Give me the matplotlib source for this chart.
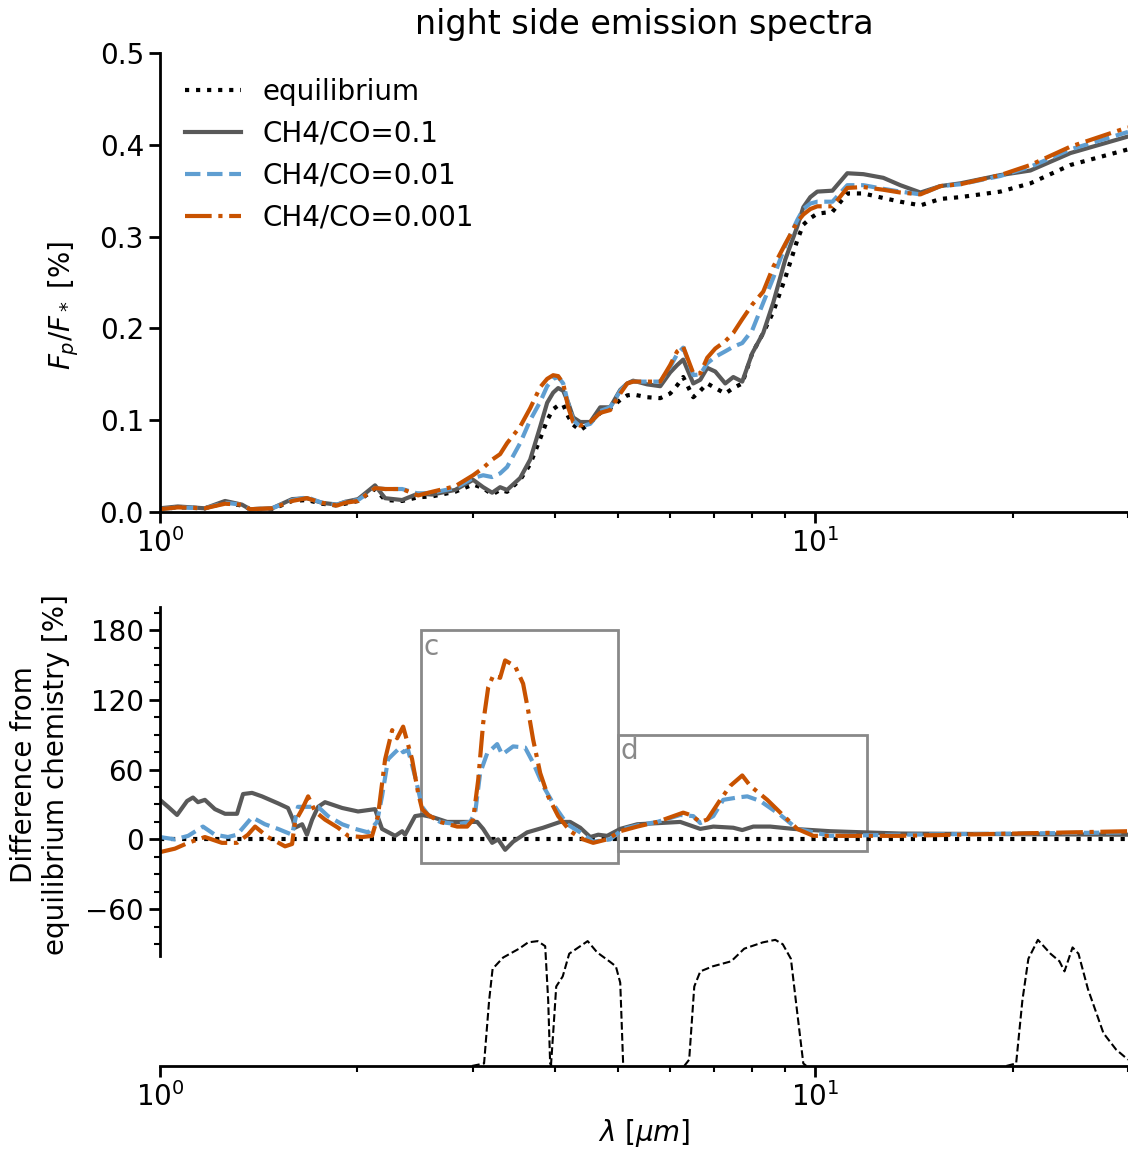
import numpy as np
import matplotlib
matplotlib.use("Agg")
import matplotlib.pyplot as plt
from matplotlib.patches import Rectangle
from matplotlib.ticker import FixedLocator

# ---- top panel: night side F_p/F_* [%] ----
wl_top = [1.000, 1.065, 1.171, 1.257, 1.334, 1.372, 1.483, 1.591, 1.676, 1.767,
          1.863, 1.916, 2.006, 2.129, 2.206, 2.342, 2.477, 2.602, 2.821, 3.005,
          3.113, 3.213, 3.304, 3.386, 3.545, 3.672, 3.804, 3.898, 3.981, 4.052,
          4.124, 4.197, 4.271, 4.378, 4.535, 4.697, 4.864, 5.039, 5.164, 5.274,
          5.540, 5.800, 6.005, 6.155, 6.287, 6.513, 6.676, 6.841, 7.036, 7.288,
          7.496, 7.736, 8.013, 8.328, 8.626, 8.998, 9.386, 9.587, 9.826, 10.07,
          10.62, 11.19, 11.84, 12.70, 13.48, 14.47, 15.52, 16.65, 19.16, 21.29,
          24.51, 30.0]
fp_eq = [.003, .005, .004, .010, .007, .003, .003, .012, .013, .009,
         .007, .009, .012, .025, .013, .012, .016, .017, .022, .030,
         .026, .019, .024, .022, .035, .052, .080, .100, .112, .116,
         .117, .104, .095, .089, .097, .108, .113, .122, .127, .128,
         .125, .124, .129, .138, .147, .125, .132, .140, .135, .129,
         .135, .140, .173, .195, .218, .255, .296, .313, .320, .325,
         .327, .347, .347, .342, .338, .334, .341, .343, .349, .358,
         .378, .395]
fp_01 = [.004, .006, .004, .012, .008, .003, .004, .014, .015, .010,
         .008, .011, .014, .029, .015, .013, .020, .019, .024, .035,
         .027, .021, .027, .024, .037, .057, .093, .119, .130, .135,
         .132, .119, .103, .098, .098, .114, .114, .133, .140, .143,
         .139, .137, .152, .160, .166, .140, .144, .157, .153, .140,
         .147, .142, .173, .195, .228, .275, .311, .332, .343, .349,
         .350, .369, .368, .364, .356, .348, .355, .358, .367, .372,
         .391, .409]
fp_001 = [.003, .005, .004, .010, .008, .003, .004, .013, .016, .010,
          .008, .011, .013, .026, .025, .025, .020, .021, .026, .037,
          .040, .038, .042, .049, .075, .100, .120, .137, .145, .147,
          .140, .118, .100, .093, .096, .110, .114, .132, .140, .142,
          .142, .142, .158, .172, .179, .149, .150, .162, .169, .175,
          .180, .184, .198, .228, .255, .290, .318, .330, .336, .338,
          .338, .356, .356, .352, .349, .346, .355, .357, .366, .376,
          .395, .414]
fp_0001 = [.003, .005, .004, .009, .008, .003, .004, .012, .015, .010,
           .007, .010, .012, .026, .025, .025, .018, .022, .028, .040,
           .048, .057, .063, .075, .093, .113, .136, .145, .149, .148,
           .140, .114, .098, .094, .098, .108, .111, .129, .140, .142,
           .142, .142, .160, .175, .180, .151, .151, .168, .178, .186,
           .195, .210, .226, .240, .267, .292, .316, .324, .330, .333,
           .333, .353, .354, .351, .348, .346, .355, .357, .367, .378,
           .398, .419]

# ---- bottom panel: difference from equilibrium [%] ----
wl_d_eq = [1.0, 30.0]
d_eq = [0, 0]

wl_d_01 = [1.000, 1.029, 1.062, 1.100, 1.123, 1.143, 1.171, 1.213, 1.257, 1.311,
           1.339, 1.382, 1.431, 1.514, 1.568, 1.596, 1.607, 1.648, 1.676, 1.707,
           1.743, 1.786, 1.897, 2.006, 2.129, 2.182, 2.285, 2.342, 2.366, 2.451,
           2.512, 2.611, 2.743, 2.974, 3.048, 3.113, 3.213, 3.281, 3.363, 3.459,
           3.633, 3.843, 4.080, 4.226, 4.378, 4.535, 4.664, 4.812, 5.039, 5.350,
           6.222, 6.676, 6.987, 7.496, 7.736, 8.042, 8.535, 9.256, 10.54, 13.48,
           30.0]
d_01 = [34, 28, 21, 33, 36, 32, 34, 26, 22, 22,
        39, 40, 37, 31, 27, 17, 10, 13, 4, 17,
        28, 32, 27, 24, 26, 9, 3, 7, 4, 20,
        21, 19, 15, 15, 15, 9, -3, 0, -9, -2,
        6, 10, 15, 15, 10, 2, 4, 3, 9, 13,
        15, 9, 11, 10, 8, 11, 11, 9, 7, 5,
        4]

wl_d_001 = [1.000, 1.054, 1.104, 1.163, 1.213, 1.270, 1.311, 1.382, 1.446, 1.514,
            1.591, 1.624, 1.683, 1.743, 1.805, 1.897, 1.986, 2.078, 2.144, 2.182,
            2.229, 2.285, 2.325, 2.350, 2.391, 2.451, 2.512, 2.566, 2.676, 2.841,
            2.974, 3.027, 3.080, 3.157, 3.270, 3.328, 3.459, 3.607, 3.710, 3.843,
            4.009, 4.182, 4.378, 4.582, 4.864, 5.092, 5.350, 5.738, 6.222, 6.513,
            6.676, 6.987, 7.236, 7.601, 7.874, 8.242, 8.844, 9.386, 10.54, 13.48,
            30.0]
d_001 = [2, 0, 3, 11, 4, 2, 4, 19, 13, 9,
         4, 28, 28, 28, 20, 13, 9, 6, 15, 37,
         69, 75, 79, 75, 77, 54, 28, 21, 15, 13,
         15, 23, 57, 74, 82, 73, 80, 79, 66, 46,
         28, 13, 6, -2, 0, 9, 12, 15, 21, 20,
         14, 20, 34, 36, 37, 33, 21, 9, 3, 4,
         6]

wl_d_0001 = [1.000, 1.054, 1.104, 1.171, 1.243, 1.311, 1.362, 1.397, 1.461, 1.552,
             1.591, 1.607, 1.648, 1.683, 1.725, 1.786, 1.870, 1.937, 2.035, 2.107,
             2.151, 2.206, 2.261, 2.301, 2.350, 2.425, 2.477, 2.512, 2.566, 2.676,
             2.841, 2.943, 3.005, 3.059, 3.113, 3.169, 3.225, 3.304, 3.363, 3.483,
             3.582, 3.646, 3.710, 3.804, 3.911, 4.052, 4.226, 4.424, 4.582, 4.812,
             5.039, 5.350, 5.738, 6.287, 6.445, 6.676, 6.841, 7.161, 7.416, 7.736,
             7.958, 8.446, 8.844, 9.386, 9.930, 11.19, 13.48, 30.0]
d_0001 = [-11, -8, -3, 2, -3, -3, 4, 11, 2, -6,
          -4, 15, 26, 37, 24, 17, 10, 3, 2, 3,
          20, 69, 94, 87, 97, 69, 40, 26, 21, 15,
          11, 11, 17, 51, 100, 131, 141, 139, 154, 149,
          134, 111, 86, 57, 37, 20, 7, 0, -3, 0,
          7, 11, 15, 23, 21, 15, 17, 34, 46, 55,
          46, 34, 23, 9, 3, 3, 3, 7]

# ---- photometric bandpasses (normalised transmission) ----
wl_f1 = [2.994, 3.123, 3.179, 3.218, 3.340, 3.532, 3.646, 3.770, 3.871, 3.912, 3.939, 3.96]
tr_f1 = [0, 0.02, 0.52, 0.77, 0.86, 0.93, 0.98, 0.99, 0.95, 0.52, 0.02, 0]
wl_f2 = [3.95, 3.981, 4.024, 4.117, 4.212, 4.494, 4.647, 4.849, 4.962, 5.039, 5.092]
tr_f2 = [0, 0.26, 0.63, 0.71, 0.89, 0.99, 0.90, 0.83, 0.79, 0.66, 0]
wl_f3 = [6.31, 6.42, 6.536, 6.676, 6.975, 7.442, 7.79, 8.316, 8.688, 8.920, 9.178, 9.386, 9.587, 9.69]
tr_f3 = [0, 0.05, 0.63, 0.75, 0.79, 0.83, 0.93, 0.98, 1.0, 0.965, 0.85, 0.42, 0.02, 0]
wl_f4 = [19.57, 20.25, 20.70, 21.14, 21.86, 22.85, 23.58, 24.0, 24.69, 25.21, 26.06, 27.52, 28.77, 30.0]
tr_f4 = [0, 0.02, 0.52, 0.85, 1.0, 0.89, 0.83, 0.75, 0.94, 0.89, 0.61, 0.26, 0.13, 0.05]

labels = ["equilibrium", "CH4/CO=0.1", "CH4/CO=0.01", "CH4/CO=0.001"]
colors = ["black", "#595959", "#5F9ED1", "#C85200"]
styles = [":", "-", "--", "-."]

plt.rcParams["font.size"] = 20
plt.rcParams["axes.linewidth"] = 2

fig = plt.figure(figsize=(11.28, 11.57), dpi=100)
ax1 = fig.add_axes([0.1418, 0.5575, 0.8582, 0.3967])
ax2 = fig.add_axes([0.1418, 0.0787, 0.8582, 0.3967])

top_series = [fp_eq, fp_01, fp_001, fp_0001]
for y, lab, c, ls in zip(top_series, labels, colors, styles):
    ax1.plot(wl_top, y, ls, color=c, lw=3, label=lab)

ax1.set_xscale("log")
ax1.set_xlim(1, 30)
ax1.set_ylim(0, 0.5)
ax1.set_yticks([0.0, 0.1, 0.2, 0.3, 0.4, 0.5])
ax1.set_ylabel(r"$F_p/F_*$ [%]", fontsize=20)
ax1.yaxis.set_label_coords(-0.082, 0.45)
ax1.set_title("night side emission spectra", fontsize=24, pad=14)
ax1.legend(loc="upper left", frameon=False, fontsize=20)

diff_x = [wl_d_eq, wl_d_01, wl_d_001, wl_d_0001]
diff_y = [d_eq, d_01, d_001, d_0001]
for x, y, c, ls in zip(diff_x, diff_y, colors, styles):
    ax2.plot(x, y, ls, color=c, lw=3)

box_col = "#898989"
ax2.add_patch(Rectangle((2.5, -20), 2.5, 200, fill=False, ec=box_col, lw=2))
ax2.add_patch(Rectangle((5.0, -10), 7.0, 100, fill=False, ec=box_col, lw=2))
ax2.text(2.52, 178, "c", color=box_col, fontsize=20, ha="left", va="top")
ax2.text(5.05, 88, "d", color=box_col, fontsize=20, ha="left", va="top")

ax2.set_xscale("log")
ax2.set_xlim(1, 30)
ax2.set_ylim(-195, 200)
ax2.spines["left"].set_bounds(-100, 200)
ax2.set_yticks([-60, 0, 60, 120, 180])
ax2.yaxis.set_minor_locator(FixedLocator(np.arange(-90, 200, 15)))
ax2.set_ylabel("Difference from\nequilibrium chemistry [%]", fontsize=20)
ax2.yaxis.set_label_coords(-0.093, 0.635)
ax2.set_xlabel(r"$\lambda$ [$\mu m$]", fontsize=20)

axf = ax2.twinx()
axf.set_ylim(0, 3.64)
for x, y in [(wl_f1, tr_f1), (wl_f2, tr_f2), (wl_f3, tr_f3), (wl_f4, tr_f4)]:
    axf.plot(x, y, "--", color="black", lw=1.5)
axf.axis("off")

for ax in (ax1, ax2):
    ax.spines["top"].set_visible(False)
    ax.spines["right"].set_visible(False)
    ax.tick_params(which="major", length=8, width=2, labelsize=20)
    ax.tick_params(which="minor", length=4, width=1.5)

fig.savefig("out.png", dpi=100)
